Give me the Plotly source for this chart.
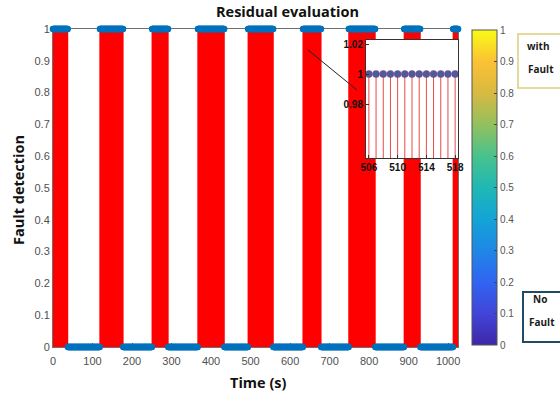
import plotly.graph_objects as go

# Fault-detection residual evaluation: binary flag sampled every second
fault_on = [0, 119, 251, 367, 494, 633, 749, 889, 1013]
fault_off = [37, 177, 291, 433, 557, 678, 815, 929, 1025]
t_end = 1025

x_ticks = [0, 100, 200, 300, 400, 500, 600, 700, 800, 900, 1000]
y_ticks = [0, 0.1, 0.2, 0.3, 0.4, 0.5, 0.6, 0.7, 0.8, 0.9, 1]
y_tick_text = ["0", "0.1", "0.2", "0.3", "0.4", "0.5", "0.6", "0.7", "0.8", "0.9", "1"]

zoom_lo, zoom_hi = 506, 518
zoom_x_ticks = [506, 510, 514, 518]
zoom_y_ticks = [0.98, 1, 1.02]
zoom_y_text = ["0.98", "1", "1.02"]

cbar_ticks = [0, 0.1, 0.2, 0.3, 0.4, 0.5, 0.6, 0.7, 0.8, 0.9, 1]
parula = [
    [0.00, "#3E26A8"], [0.10, "#4145D8"], [0.20, "#3064F2"], [0.30, "#1F87E6"],
    [0.40, "#13A4D6"], [0.50, "#1FB8B4"], [0.60, "#48C28D"], [0.70, "#93C05E"],
    [0.80, "#D8B941"], [0.90, "#FBC135"], [1.00, "#F9FB15"],
]

# sampled signal
t = list(range(0, t_end + 1))
signal = [1 if any(a <= ti <= b for a, b in zip(fault_on, fault_off)) else 0 for ti in t]

# page geometry (pixels)
W, H = 560, 394
L, R, T, B = 53, 458, 29, 347
PW, PH = R - L, B - T


def px(xp):
    return (xp - L) / PW


def py(yp):
    return (B - yp) / PH


RED = "#FF0000"
BLUE = "#0072BD"

fig = go.Figure()

# stems
sx, sy = [], []
for ti, v in zip(t, signal):
    sx += [ti, ti, None]
    sy += [0, v, None]
fig.add_trace(go.Scatter(x=sx, y=sy, mode="lines", line=dict(color=RED, width=1.2),
                         hoverinfo="skip", showlegend=False))
# stem heads
fig.add_trace(go.Scatter(x=t, y=signal, mode="markers", cliponaxis=False,
                         marker=dict(symbol="circle-open", size=5, color=BLUE,
                                     line=dict(width=1.6, color=BLUE)),
                         showlegend=False))

# zoomed view
zt = [ti for ti in t if zoom_lo <= ti <= zoom_hi]
zv = [signal[ti] for ti in zt]
zx, zy = [], []
for ti, v in zip(zt, zv):
    zx += [ti, ti, None]
    zy += [0, v, None]
fig.add_trace(go.Scatter(x=zx, y=zy, mode="lines", line=dict(color="#E8484A", width=1),
                         xaxis="x2", yaxis="y2", showlegend=False))
fig.add_trace(go.Scatter(x=zt, y=zv, mode="markers", xaxis="x2", yaxis="y2",
                         marker=dict(size=7, color="#4F5A9E", line=dict(width=0.6, color="#7A4F82")),
                         showlegend=False))

# colour scale carrier
fig.add_trace(go.Scatter(x=[-500], y=[0.5], mode="markers", showlegend=False,
                         marker=dict(color=[0], cmin=0, cmax=1, colorscale=parula, showscale=True,
                                     colorbar=dict(x=px(472), xanchor="left", y=py(345), yanchor="bottom",
                                                   len=(345 - 30) / PH, lenmode="fraction",
                                                   thickness=25, thicknessmode="pixels",
                                                   outlinewidth=1, outlinecolor="#555555",
                                                   tickvals=cbar_ticks, ticks="inside", ticklen=3,
                                                   tickcolor="#444444", xpad=0, ypad=0,
                                                   tickfont=dict(family="Liberation Sans", size=10,
                                                                 color="#555555")))))

axis_font = dict(family="Liberation Sans", size=11, color="#505050")
fig.update_layout(
    width=W, height=H,
    margin=dict(l=L, r=W - R, t=T, b=H - B),
    paper_bgcolor="white", plot_bgcolor="white",
    xaxis=dict(range=[0, t_end], tickvals=x_ticks, ticks="inside", ticklen=4, tickcolor="#606060",
               showline=True, mirror=True, linecolor="#707070", linewidth=1, showgrid=False,
               zeroline=False, tickfont=axis_font, layer="below traces", ticklabelstandoff=4),
    yaxis=dict(range=[0, 1], tickvals=y_ticks, ticktext=y_tick_text, ticks="inside", ticklen=4,
               tickcolor="#606060", showline=True, mirror=True, linecolor="#707070", linewidth=1,
               showgrid=False, zeroline=False, tickfont=axis_font, layer="below traces"),
    xaxis2=dict(domain=[px(366), 1.0], anchor="y2", range=[505.6, 518.4], tickvals=zoom_x_ticks,
                ticks="inside", ticklen=3, tickcolor="#333333", showline=True, mirror=True,
                linecolor="#333333", linewidth=1, showgrid=False, zeroline=False,
                tickfont=dict(family="Liberation Sans", size=10, color="#111111", weight="bold")),
    yaxis2=dict(domain=[py(158), py(40)], anchor="x2", range=[0.944, 1.0227], tickvals=zoom_y_ticks,
                ticktext=zoom_y_text, ticks="inside", ticklen=3, tickcolor="#333333", showline=True,
                mirror=True, linecolor="#333333", linewidth=1, showgrid=False, zeroline=False,
                tickfont=dict(family="Liberation Sans", size=10, color="#111111", weight="bold")),
    showlegend=False,
)

bold = dict(family="Open Sans", color="#111111", weight="bold")
for txt, xp, yp, ang in [("Residual evaluation", 287, 12, 0), ("Time (s)", 258, 382, 0),
                         ("Fault detection", 18, 190, -90)]:
    fig.add_annotation(text=txt, x=px(xp), y=py(yp), xref="paper", yref="paper",
                       xanchor="center", yanchor="middle", textangle=ang,
                       showarrow=False, font=dict(size=14.5, **bold))

# pointer from main plot to the zoomed view
fig.add_shape(type="line", xref="paper", yref="paper", x0=px(308), y0=py(50), x1=px(357), y1=py(90),
              line=dict(color="#222222", width=1))

# state boxes
fig.add_shape(type="rect", xref="paper", yref="paper", x0=px(518), x1=px(580), y0=py(88), y1=py(34),
              line=dict(color="#D9CF7E", width=1.5), fillcolor="white")
fig.add_shape(type="rect", xref="paper", yref="paper", x0=px(523), x1=px(580), y0=py(342), y1=py(292),
              line=dict(color="#1F4A68", width=2), fillcolor="white")
box_font = dict(family="Open Sans", size=10, color="#1a1a1a", weight="bold")
for txt, xp, yp in [("with", 525, 46), ("Fault", 526, 69), ("No", 531, 299), ("Fault", 527, 322)]:
    fig.add_annotation(text=txt, x=px(xp), y=py(yp), xref="paper", yref="paper", xanchor="left",
                       yanchor="middle", showarrow=False, font=box_font)

fig.write_html("out.html")
